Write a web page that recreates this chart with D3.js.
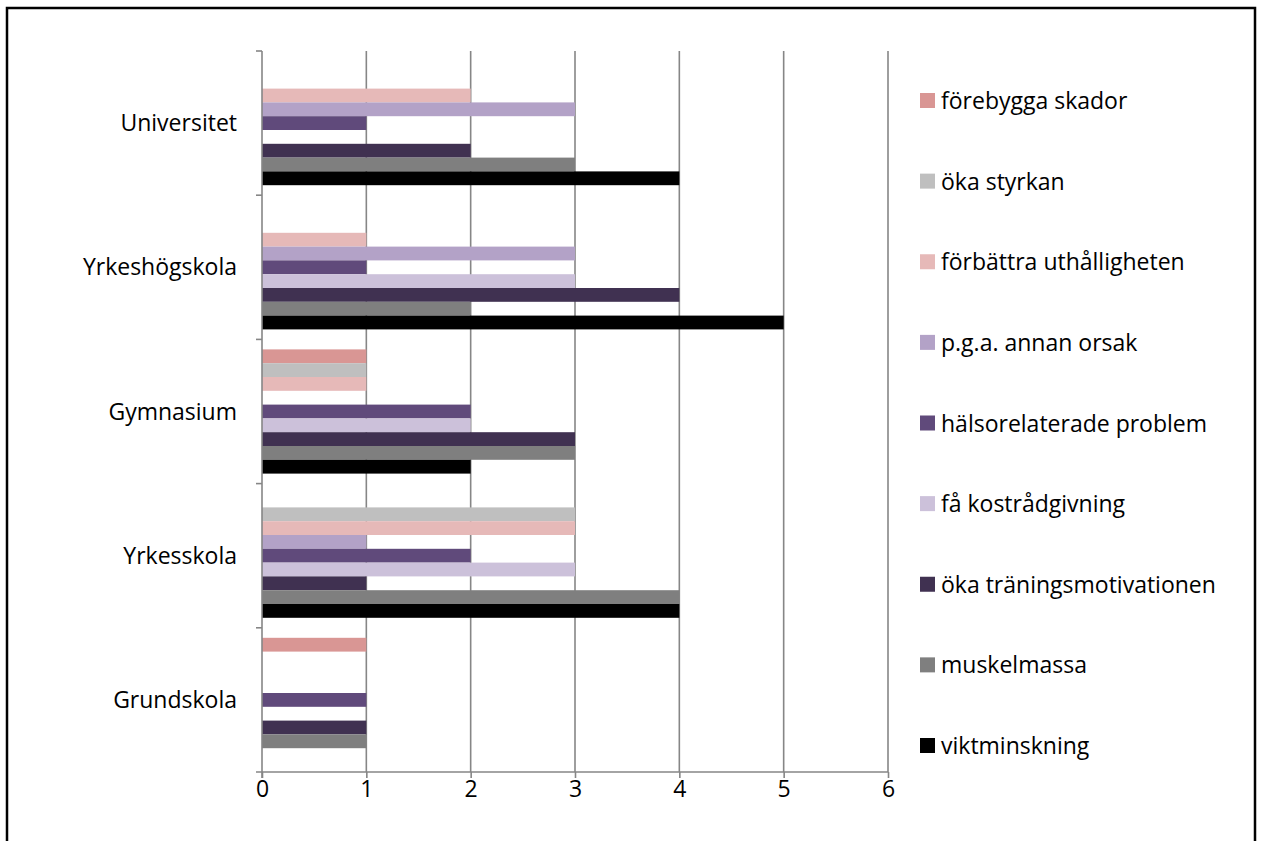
<!DOCTYPE html>
<html>
<head>
<meta charset="utf-8">
<script src="https://cdn.jsdelivr.net/npm/d3@7"></script>
<style>
  html, body { margin: 0; padding: 0; background: #fff; }
  svg { display: block; }
  text { font-family: "Open Sans", "Noto Sans", sans-serif; fill: #000; }
</style>
</head>
<body>
<svg id="chart" width="1262" height="841"></svg>
<script>
// Education levels, drawn top to bottom
const categories = ["Universitet", "Yrkeshögskola", "Gymnasium", "Yrkesskola", "Grundskola"];

// Series in legend order (top to bottom); inside each group the first series sits on top
const seriesNames = [
  "förebygga skador",
  "öka styrkan",
  "förbättra uthålligheten",
  "p.g.a. annan orsak",
  "hälsorelaterade problem",
  "få kostrådgivning",
  "öka träningsmotivationen",
  "muskelmassa",
  "viktminskning"
];

const seriesColors = [
  "#D99694", "#BFBFBF", "#E6B9B8", "#B3A2C7", "#604A7B",
  "#CCC1DA", "#403151", "#7F7F7F", "#000000"
];

// Counts per series, one value per category (same order as categories)
const forebyggaSkador       = [0, 0, 1, 0, 1];
const okaStyrkan            = [0, 0, 1, 3, 0];
const forbattraUthallighet  = [2, 1, 1, 3, 0];
const annanOrsak            = [3, 3, 0, 1, 0];
const halsorelateradeProbl  = [1, 1, 2, 2, 1];
const faKostradgivning      = [0, 3, 2, 3, 0];
const okaTraningsmotivation = [2, 4, 3, 1, 1];
const muskelmassa           = [3, 2, 3, 4, 1];
const viktminskning         = [4, 5, 2, 4, 0];

const seriesValues = [
  forebyggaSkador, okaStyrkan, forbattraUthallighet, annanOrsak,
  halsorelateradeProbl, faKostradgivning, okaTraningsmotivation,
  muskelmassa, viktminskning
];

const xTicks = [0, 1, 2, 3, 4, 5, 6];

const fontSize = 23;
const svg = d3.select("#chart");

// Outer frame (runs past the bottom edge)
svg.append("path")
  .attr("d", "M7,845 L7,8 L1255,8 L1255,845")
  .attr("fill", "none")
  .attr("stroke", "#000")
  .attr("stroke-width", 2.5);

const plot = { left: 262, right: 888, top: 51, bottom: 772 };

const x = d3.scaleLinear().domain([0, 6]).range([plot.left, plot.right]);
const y = d3.scaleBand().domain(categories).range([plot.top, plot.bottom]).padding(0);
const yInner = d3.scaleBand()
  .domain(seriesNames)
  .range([10, y.bandwidth() - 10])
  .padding(0);

const gridColor = "#868686";

// Vertical gridlines
svg.append("g")
  .selectAll("line")
  .data(xTicks.filter(d => d > 0))
  .join("line")
  .attr("x1", d => x(d)).attr("x2", d => x(d))
  .attr("y1", plot.top).attr("y2", plot.bottom)
  .attr("stroke", gridColor)
  .attr("stroke-width", 1.6);

// Bars
const groups = svg.append("g")
  .selectAll("g")
  .data(categories)
  .join("g")
  .attr("transform", d => `translate(0,${y(d)})`);

groups.selectAll("rect")
  .data((c, ci) => seriesNames.map((s, si) => ({ s, si, v: seriesValues[si][ci] })))
  .join("rect")
  .attr("x", x(0))
  .attr("y", d => yInner(d.s))
  .attr("width", d => x(d.v) - x(0))
  .attr("height", yInner.bandwidth())
  .attr("fill", d => seriesColors[d.si]);

// Value axis
const xAxis = d3.axisBottom(x).tickValues(xTicks).tickSize(6).tickPadding(3).tickFormat(d3.format("d"));
const gx = svg.append("g")
  .attr("transform", `translate(0,${plot.bottom})`)
  .call(xAxis);
gx.select(".domain").remove();
gx.selectAll(".tick line").attr("stroke", gridColor).attr("stroke-width", 1.6);
gx.selectAll(".tick text")
  .attr("font-size", fontSize)
  .attr("font-family", "'Open Sans', 'Noto Sans', sans-serif")
  .attr("fill", "#000");
gx.append("line")
  .attr("x1", plot.left - 6).attr("x2", plot.right)
  .attr("y1", 0).attr("y2", 0)
  .attr("stroke", gridColor).attr("stroke-width", 1.6);

// Category axis with boundary ticks
const gy = svg.append("g");
gy.append("line")
  .attr("x1", plot.left).attr("x2", plot.left)
  .attr("y1", plot.top).attr("y2", plot.bottom + 6)
  .attr("stroke", gridColor).attr("stroke-width", 1.6);
const boundaries = categories.map(c => y(c));
gy.selectAll("line.bt")
  .data(boundaries)
  .join("line")
  .attr("class", "bt")
  .attr("x1", plot.left - 6).attr("x2", plot.left)
  .attr("y1", d => d).attr("y2", d => d)
  .attr("stroke", gridColor).attr("stroke-width", 1.6);

gy.selectAll("text")
  .data(categories)
  .join("text")
  .attr("x", plot.left - 25)
  .attr("y", d => y(d) + y.bandwidth() / 2)
  .attr("dy", "0.35em")
  .attr("text-anchor", "end")
  .attr("font-size", fontSize)
  .text(d => d);

// Legend
const legend = svg.append("g").attr("transform", "translate(920,0)");
const legendY = d3.scalePoint().domain(seriesNames).range([101, 746]);
const items = legend.selectAll("g")
  .data(seriesNames)
  .join("g")
  .attr("transform", d => `translate(0,${legendY(d)})`);
items.append("rect")
  .attr("x", 0).attr("y", -8)
  .attr("width", 15).attr("height", 15)
  .attr("fill", (d, i) => seriesColors[i]);
items.append("text")
  .attr("x", 21)
  .attr("y", 0)
  .attr("dy", "0.35em")
  .attr("font-size", fontSize)
  .text(d => d);
</script>
</body>
</html>
